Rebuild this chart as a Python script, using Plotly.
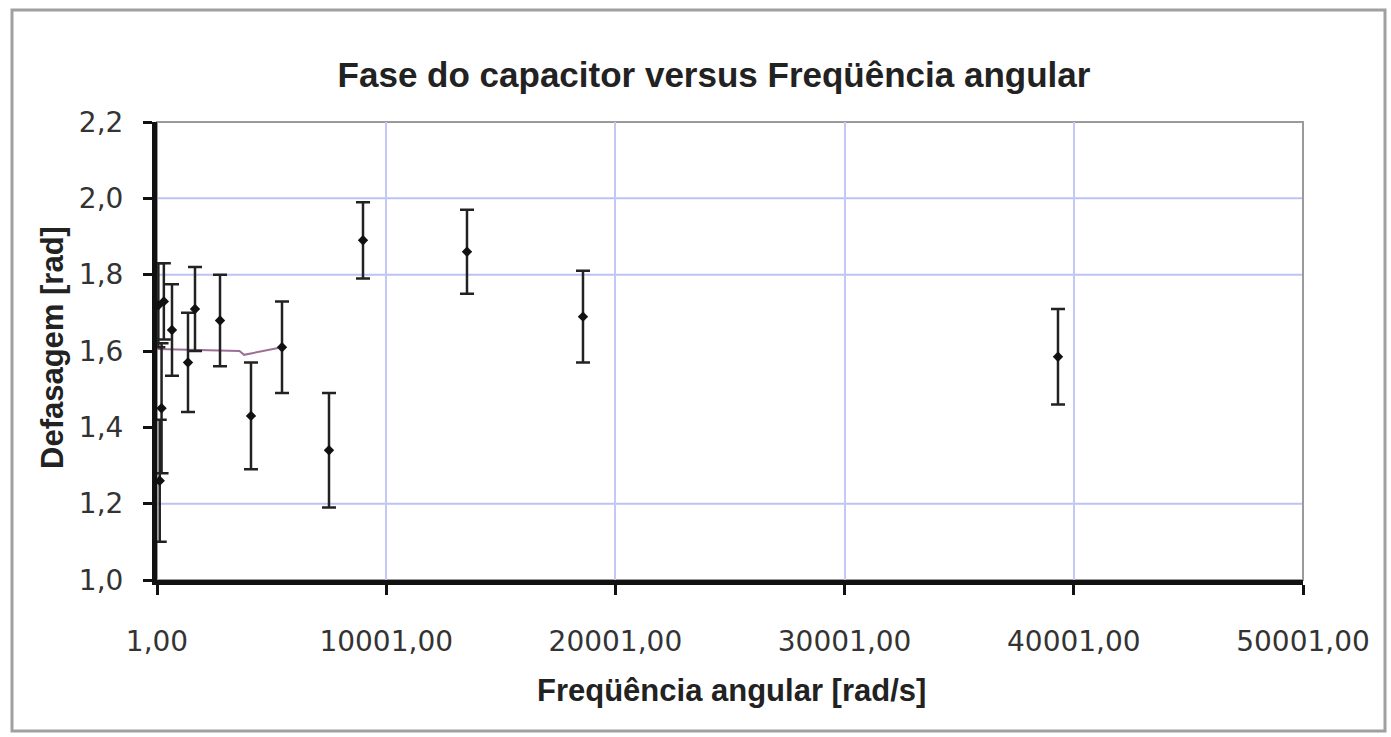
import plotly.graph_objects as go

# Data
freq = [60, 120, 200, 300, 655, 1353, 1659, 2750, 4102, 5455, 7505, 8989, 13526, 18587, 39311]
phase = [1.72, 1.26, 1.45, 1.73, 1.655, 1.57, 1.71, 1.68, 1.43, 1.61, 1.34, 1.89, 1.86, 1.69, 1.585]
phase_err = [0.11, 0.16, 0.17, 0.10, 0.12, 0.13, 0.11, 0.12, 0.14, 0.12, 0.15, 0.10, 0.11, 0.12, 0.125]

line_x = [1, 3600, 3800, 5455]
line_y = [1.605, 1.60, 1.59, 1.61]

x_ticks = [1, 10001, 20001, 30001, 40001, 50001]
y_ticks = [1.0, 1.2, 1.4, 1.6, 1.8, 2.0, 2.2]
y_grid = [1.2, 1.8, 2.0]

title_text = "Fase do capacitor versus Freqüência angular"
x_title = "Freqüência angular [rad/s]"
y_title = "Defasagem [rad]"

fig = go.Figure()

fig.add_trace(go.Scatter(
    x=line_x, y=line_y, mode="lines",
    line=dict(color="#9c6f95", width=2),
    showlegend=False, hoverinfo="skip",
))

fig.add_trace(go.Scatter(
    x=freq, y=phase, mode="markers",
    marker=dict(symbol="diamond", size=8, color="#111111"),
    error_y=dict(type="data", array=phase_err, visible=True,
                 color="#222222", thickness=2.5, width=7),
    showlegend=False,
))

shapes = []
for g in y_grid:
    shapes.append(dict(type="line", xref="paper", yref="y", x0=0, x1=1, y0=g, y1=g,
                       line=dict(color="#bcc3f4", width=2), layer="below"))
# plot-area border (top/right)
shapes.append(dict(type="rect", xref="paper", yref="paper", x0=0, x1=1, y0=0, y1=1,
                   line=dict(color="#9a9a9a", width=2), layer="below"))
# outer chart border
W, H = 1391, 737
L, R, T, B = 157, 88, 122, 157
pw, ph = W - L - R, H - T - B
def px(xp):
    return (xp - L) / pw
def py(yp):
    return (H - B - yp) / ph
shapes.append(dict(type="rect", xref="paper", yref="paper",
                   x0=px(12), x1=px(1385), y0=py(731), y1=py(10),
                   line=dict(color="#a0a0a0", width=3), layer="below"))

fig.update_layout(
    width=W, height=H,
    margin=dict(l=L, r=R, t=T, b=B),
    paper_bgcolor="white", plot_bgcolor="white",
    separators=",.",
    font=dict(family="DejaVu Sans", color="#222222"),
    title=dict(text=title_text, x=714 / W, xanchor="center", y=1 - 75 / H, yanchor="middle",
               font=dict(family="Liberation Sans", size=35, color="#222222", weight="bold")),
    shapes=shapes,
    xaxis=dict(
        range=[1, 50001], tickvals=x_ticks, tickformat=".2f",
        showgrid=True, gridcolor="#c3c9f4", gridwidth=2,
        zeroline=False, showline=True, linecolor="#111111", linewidth=5,
        ticks="outside", ticklen=10, tickwidth=3, tickcolor="#111111",
        tickfont=dict(family="DejaVu Sans", size=28, color="#333333"),
        ticklabelstandoff=22,
    ),
    yaxis=dict(
        range=[1.0, 2.2], tickvals=y_ticks, tickformat=".1f",
        showgrid=False, zeroline=False,
        showline=True, linecolor="#111111", linewidth=5,
        ticks="outside", ticklen=9, tickwidth=3, tickcolor="#111111",
        tickfont=dict(family="DejaVu Sans", size=28, color="#333333"),
        ticklabelstandoff=14,
    ),
    annotations=[
        dict(text=x_title, xref="paper", yref="paper", x=px(731), y=py(690),
             xanchor="center", yanchor="middle", showarrow=False,
             font=dict(family="Liberation Sans", size=31, color="#222222", weight="bold")),
        dict(text=y_title, xref="paper", yref="paper", x=px(52), y=py(348),
             xanchor="center", yanchor="middle", showarrow=False, textangle=-90,
             font=dict(family="Liberation Sans", size=31, color="#222222", weight="bold")),
    ],
)

fig.write_html("out.html")
